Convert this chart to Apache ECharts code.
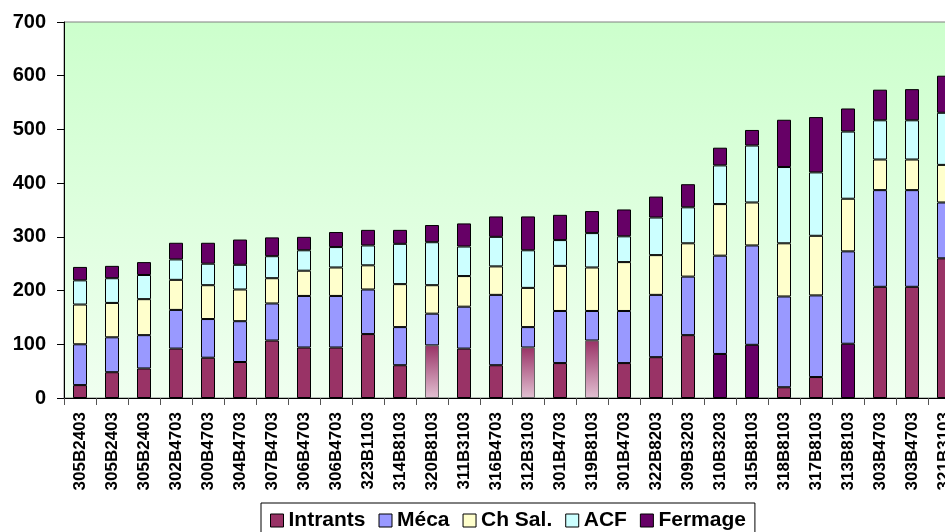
<!DOCTYPE html>
<html><head><meta charset="utf-8">
<script src="https://cdn.jsdelivr.net/npm/echarts@6/dist/echarts.min.js"></script>
<style>html,body{margin:0;padding:0;background:#fff;overflow:hidden;width:945px;height:532px}#c{width:962px;height:532px}</style>
</head><body><div id="c"></div>
<script>
const categories = ['305B2403','305B2403','305B2403','302B4703','300B4703','304B4703','307B4703','306B4703','306B4703','323B1103','314B8103','320B8103','311B3103','316B4703','312B3103','301B4703','319B8103','301B4703','322B8203','309B3203','310B3203','315B8103','318B8103','317B8103','313B8103','303B4703','303B4703','321B3103'];
const intrants = [24,48,55,92,75,67,107,94,94,119,61,98,92,61,94,65,107,65,76,117,82,99,20,39,101,207,207,260];
const meca     = [76,65,62,72,72,76,69,96,96,83,71,59,78,131,38,97,55,97,116,109,183,185,169,152,172,180,180,104];
const chSal    = [74,64,67,56,63,59,47,47,53,45,80,53,57,53,73,84,81,91,74,62,96,80,99,111,98,57,57,70];
const acf      = [45,46,45,38,40,46,41,38,38,37,75,80,55,55,70,48,64,48,70,67,72,106,142,118,125,73,73,97];
const fermage  = [25,23,24,31,39,47,35,25,28,29,26,32,43,38,63,47,41,50,39,43,33,29,88,103,43,57,58,69];
const fadedIdx = [11,14,16];
const darkIdx = [20,21,24];
const yTicks = {min:0,max:700,interval:100};

const chart = echarts.init(document.getElementById('c'));
const border = {borderColor:'#000',borderWidth:1};
const intrData = intrants.map((v,i)=>{
  if (fadedIdx.includes(i)) return {value:v,itemStyle:{borderColor:'#666',color:new echarts.graphic.LinearGradient(0,0,0,1,[{offset:0,color:'#993366'},{offset:1,color:'#e2c0d2'}])}};
  if (darkIdx.includes(i)) return {value:v,itemStyle:{color:'#660066'}};
  return v;
});
function ser(name,data,color){
  return {name,type:'bar',stack:'s',data,barWidth:14,itemStyle:Object.assign({color},border),emphasis:{disabled:true}};
}
chart.setOption({
  animation:false,
  grid:{left:64,top:22,right:2,bottom:134,show:true,borderColor:'#808080',borderWidth:1,
    backgroundColor:new echarts.graphic.LinearGradient(0,0,0,1,[{offset:0,color:'#ccffcc'},{offset:1,color:'#f0fff0'}])},
  legend:{left:261,top:503,padding:[7,9,6,9],borderColor:'#000',borderWidth:1,itemWidth:13,itemHeight:13,itemGap:13,
    itemStyle:{borderColor:'#000',borderWidth:1},icon:'rect',
    textStyle:{fontFamily:'Liberation Sans, Arial',fontWeight:'bold',fontSize:21,color:'#000'}},
  xAxis:{type:'category',data:categories,
    axisLine:{lineStyle:{color:'#000',width:1}},
    axisTick:{show:true,length:7,lineStyle:{color:'#555'}},
    axisLabel:{rotate:90,interval:0,margin:14,fontFamily:'Liberation Sans, Arial',fontWeight:'bold',fontSize:17,color:'#000'}},
  yAxis:{type:'value',min:yTicks.min,max:yTicks.max,interval:yTicks.interval,
    splitLine:{show:false},
    axisLine:{show:true,lineStyle:{color:'#000',width:1}},
    axisTick:{show:true,length:7,lineStyle:{color:'#000'}},
    axisLabel:{margin:18,fontFamily:'Liberation Sans, Arial',fontWeight:'bold',fontSize:20,color:'#000'}},
  series:[
    ser('Intrants',intrData,'#993366'),
    ser('Méca',meca,'#9999ff'),
    ser('Ch Sal.',chSal,'#ffffcc'),
    ser('ACF',acf,'#ccffff'),
    ser('Fermage',fermage,'#660066')
  ]
});
</script></body></html>
